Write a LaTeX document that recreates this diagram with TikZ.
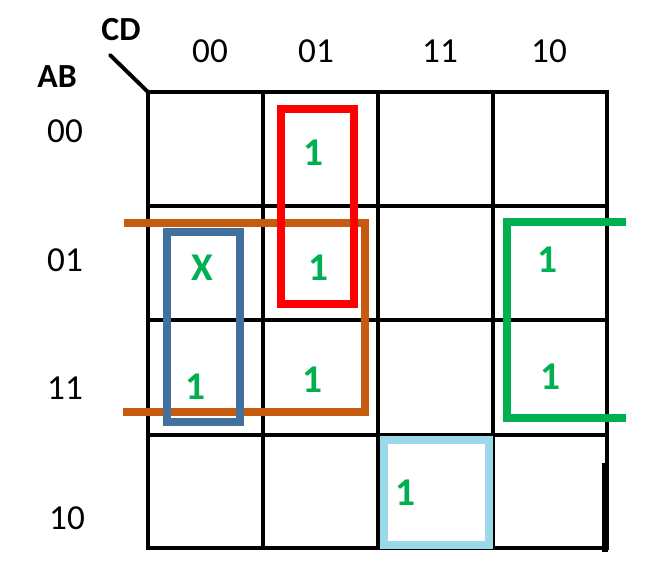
\documentclass[tikz,border=0pt]{standalone}
\usepackage{fontspec}
\setmainfont{Carlito}
\usetikzlibrary{calc}
\definecolor{gruen}{RGB}{0, 176, 80}
\definecolor{orange}{RGB}{197, 90, 17}
\definecolor{stahlblau}{RGB}{65, 113, 156}
\definecolor{hellblau}{RGB}{155, 217, 234}
\definecolor{rot}{RGB}{255, 0, 0}
\tikzset{
    label/.style={inner sep=0pt, font=\fontsize{25}{25}\selectfont},
    var/.style={inner sep=0pt, font=\fontsize{24}{24}\selectfont\bfseries},
    eins/.style={inner sep=0pt, text=gruen, font=\fontsize{28}{28}\selectfont\bfseries},
    gitter/.style={line width=2.8pt, line cap=rect},
    schleife/.style={line width=5.7pt}
}

\begin{document}
\begin{tikzpicture}[x=0.25mm, y=-0.25mm]

    \useasboundingbox (0,0) rectangle (660,583);

    % grid
    \draw[gitter] (148,92) -- (607,92);
    \draw[gitter] (148,206) -- (607,206);
    \draw[gitter] (148,320) -- (607,320);
    \draw[gitter] (148,435) -- (607,435);
    \draw[gitter] (148,548) -- (607,548);
    \draw[gitter] (148,92) -- (148,548);
    \draw[gitter] (263,92) -- (263,548);
    \draw[gitter] (378,92) -- (378,548);
    \draw[gitter] (493,92) -- (493,548);
    \draw[gitter] (607,92) -- (607,548);
    \draw[line width=4.5pt] (605,463) -- (605,552);

    \draw[line width=2.8pt, line cap=round] (110,55) -- (148,92);

    \node[var] (cd) at (121,30) {CD};
    \node[var] (ab) at (57,77) {AB};

    \node[label] (c00) at (210,51) {00};
    \node[label] (c01) at (316,51) {01};
    \node[label] (c11) at (440,51) {11};
    \node[label] (c10) at (549,51) {10};

    \node[label] (r00) at (65,131) {00};
    \node[label] (r01) at (65,260) {01};
    \node[label] (r11) at (65,388) {11};
    \node[label] (r10) at (67,518) {10};

    % groups
    \draw[schleife, orange, line width=5pt] (124,223) -- (365,223) -- (365,412) -- (123,412);
    \draw[schleife, stahlblau, line width=5pt] (167,232) rectangle (240,422);
    \draw[schleife, rot] (281,109) rectangle (354,304);
    \draw[schleife, gruen] (626,222) -- (507,222) -- (507,418) -- (626,418);
    \draw[schleife, hellblau] (384,440) rectangle (489,545);

    \node[eins] (m1) at (313,153) {1};
    \node[eins] (m4) at (202,268) {X};
    \node[eins] (m5) at (318,268) {1};
    \node[eins] (m6) at (547,260) {1};
    \node[eins] (m12) at (195,387) {1};
    \node[eins] (m13) at (312,380) {1};
    \node[eins] (m14) at (550,377) {1};
    \node[eins] (m10) at (405,493) {1};

\end{tikzpicture}
\end{document}
